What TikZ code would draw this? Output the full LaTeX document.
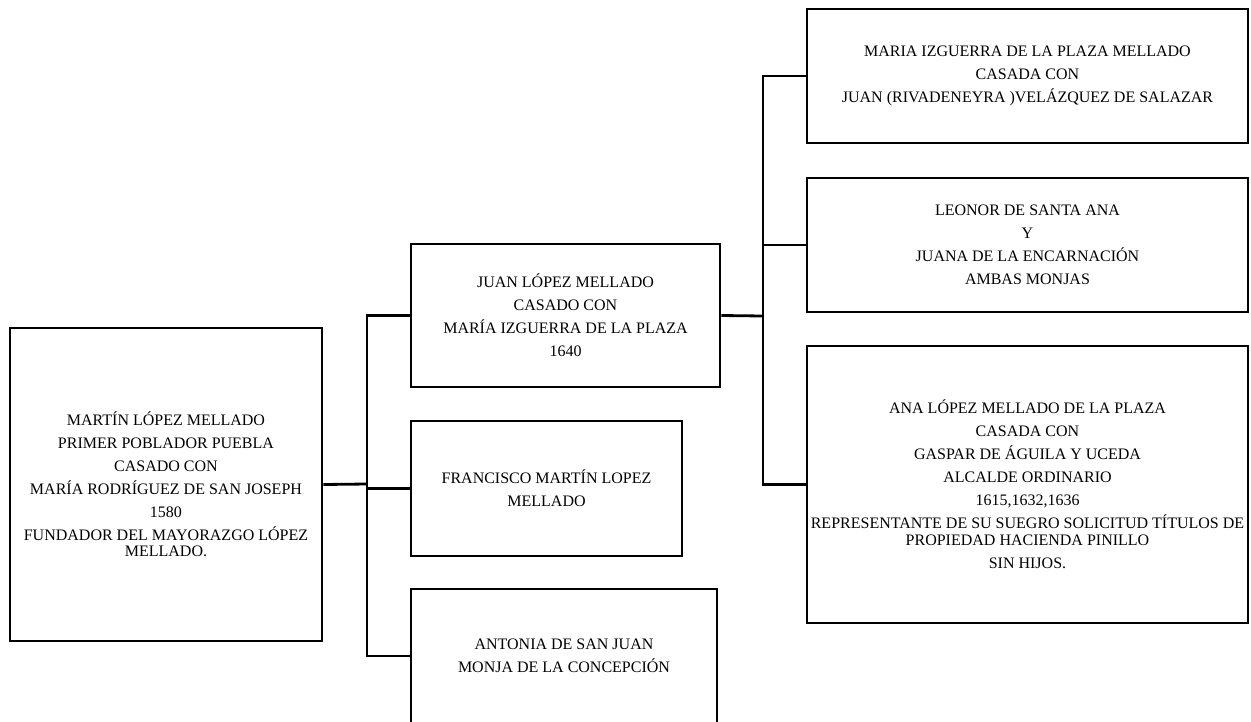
\documentclass[tikz,border=0pt]{standalone}
\usepackage{fontspec}
\setmainfont{Liberation Serif}
\begin{document}
\begin{tikzpicture}[x=1pt,y=-1pt,
  box/.style={draw=black,line width=2.6pt,inner sep=0pt,align=center,
    font=\fontsize{16}{23}\selectfont},
  conn/.style={draw=black,line width=2.2pt,line cap=rect},
  mainconn/.style={draw=black,line width=2.8pt}]
\useasboundingbox (0,0) rectangle (1251,721);
\clip (0,0) rectangle (1251,721);
\fill[white] (0,0) rectangle (1251,721);

\node[box,minimum width=312pt,minimum height=313pt] (martin) at (166,484.5)
  {MARTÍN LÓPEZ MELLADO\\PRIMER POBLADOR PUEBLA\\CASADO CON\\MARÍA RODRÍGUEZ DE SAN JOSEPH\\1580\\FUNDADOR DEL MAYORAZGO LÓPEZ\\[-7pt]MELLADO.};

\node[box,minimum width=309pt,minimum height=143pt] (juan) at (565.5,315.5)
  {JUAN LÓPEZ MELLADO\\CASADO CON\\MARÍA IZGUERRA DE LA PLAZA\\1640};

\node[box,minimum width=271pt,minimum height=135pt] (fran) at (546.5,488.5)
  {FRANCISCO MARTÍN LOPEZ\\MELLADO};

\node[box,minimum width=306pt,minimum height=134pt] (anto) at (564,656)
  {ANTONIA DE SAN JUAN\\MONJA DE LA CONCEPCIÓN};

\node[box,minimum width=441pt,minimum height=134pt] (maria) at (1027.5,76)
  {MARIA IZGUERRA DE LA PLAZA MELLADO\\CASADA CON\\JUAN (RIVADENEYRA )VELÁZQUEZ DE SALAZAR};

\node[box,minimum width=441pt,minimum height=134pt] (leonor) at (1027.5,245)
  {LEONOR DE SANTA ANA\\Y\\JUANA DE LA ENCARNACIÓN\\AMBAS MONJAS};

\node[box,minimum width=441pt,minimum height=277pt] (ana) at (1027.5,484.5)
  {ANA LÓPEZ MELLADO DE LA PLAZA\\CASADA CON\\GASPAR DE ÁGUILA Y UCEDA\\ALCALDE ORDINARIO\\1615,1632,1636\\REPRESENTANTE DE SU SUEGRO SOLICITUD TÍTULOS DE\\[-6pt]PROPIEDAD HACIENDA PINILLO\\SIN HIJOS.};

\coordinate (busL) at (367,484);
\coordinate (busR) at (763,316);

\draw[mainconn] (martin.east) -- (busL);
\draw[conn] (juan.west) -| (busL |- anto.west) -- (anto.west);
\draw[conn] (busL |- fran.west) -- (fran.west);

\draw[mainconn] (juan.east) -- (busR);
\draw[conn] (maria.west) -| (busR |- ana.west) -- (ana.west);
\draw[conn] (busR |- leonor.west) -- (leonor.west);
\end{tikzpicture}
\end{document}
